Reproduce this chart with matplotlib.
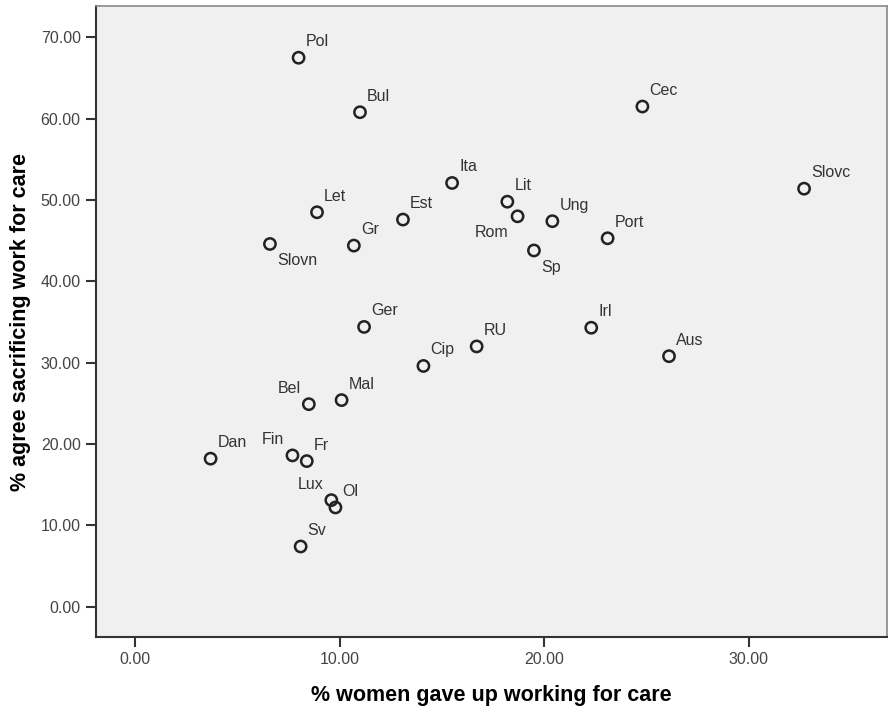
import matplotlib
matplotlib.use("Agg")
import matplotlib.pyplot as plt
import matplotlib.ticker as ticker

plt.rcParams["font.family"] = ["Liberation Sans", "DejaVu Sans"]

# --- Data ---
countries = ["Pol", "Bul", "Cec", "Slovc", "Ita", "Lit", "Rom", "Ung", "Port", "Sp",
             "Let", "Est", "Gr", "Slovn", "Ger", "Irl", "RU", "Aus", "Cip",
             "Bel", "Mal", "Dan", "Fin", "Fr", "Lux", "Ol", "Sv"]
gave_up = [8.0, 11.0, 24.8, 32.7, 15.5, 18.2, 18.7, 20.4, 23.1, 19.5,
           8.9, 13.1, 10.7, 6.6, 11.2, 22.3, 16.7, 26.1, 14.1,
           8.5, 10.1, 3.7, 7.7, 8.4, 9.6, 9.8, 8.1]
agree = [67.5, 60.8, 61.5, 51.4, 52.1, 49.8, 48.0, 47.4, 45.3, 43.8,
         48.5, 47.6, 44.4, 44.6, 34.4, 34.3, 32.0, 30.8, 29.6,
         24.9, 25.4, 18.2, 18.6, 17.9, 13.1, 12.2, 7.4]
# label placement: "ur" up-right, "ul" up-left, "dr" down-right, "dl" down-left
placement = ["ur", "ur", "ur", "ur", "ur", "ur", "dl", "ur", "ur", "dr",
             "ur", "ur", "ur", "dr", "ur", "ur", "ur", "ur", "ur",
             "ul", "ur", "ur", "ul", "ur", "ul", "ur", "ur"]

x_ticks = [0, 10, 20, 30]
y_ticks = [0, 10, 20, 30, 40, 50, 60, 70]

offsets = {"ur": (7, 16, "left"), "ul": (-8, 16, "right"),
           "dr": (7, -17, "left"), "dl": (-9, -16, "right")}

fig = plt.figure(figsize=(8.88, 7.07), dpi=100)
ax = fig.add_axes([0.1081, 0.099, 0.8905, 0.8925])
ax.set_facecolor("#f0f0f0")

ax.scatter(gave_up, agree, s=66, facecolors="none", edgecolors="#222222",
           linewidths=1.8, zorder=3)

for name, x, y, p in zip(countries, gave_up, agree, placement):
    dx, dy, ha = offsets[p]
    ax.annotate(name, (x, y), textcoords="offset pixels", xytext=(dx, dy),
                ha=ha, va="center", fontsize=11.5, color="#333333")

ax.set_xlim(-1.9, 36.74)
ax.set_ylim(-3.73, 73.86)
ax.set_xticks(x_ticks)
ax.set_yticks(y_ticks)
ax.xaxis.set_major_formatter(ticker.FormatStrFormatter("%.2f"))
ax.yaxis.set_major_formatter(ticker.FormatStrFormatter("%.2f"))
ax.tick_params(direction="out", length=7, width=1.5, color="#333333",
               labelsize=11.5, labelcolor="#444444", pad=4)

for side in ["left", "bottom"]:
    ax.spines[side].set_color("#333333")
    ax.spines[side].set_linewidth(1.5)
for side in ["top", "right"]:
    ax.spines[side].set_color("#888888")
    ax.spines[side].set_linewidth(1.2)

ax.set_xlabel("% women gave up working for care", fontsize=15.5,
              fontweight="bold", labelpad=13)
ax.set_ylabel("% agree sacrificing work for care", fontsize=15.5,
              fontweight="bold", labelpad=7)

fig.savefig("out.png", dpi=100)
